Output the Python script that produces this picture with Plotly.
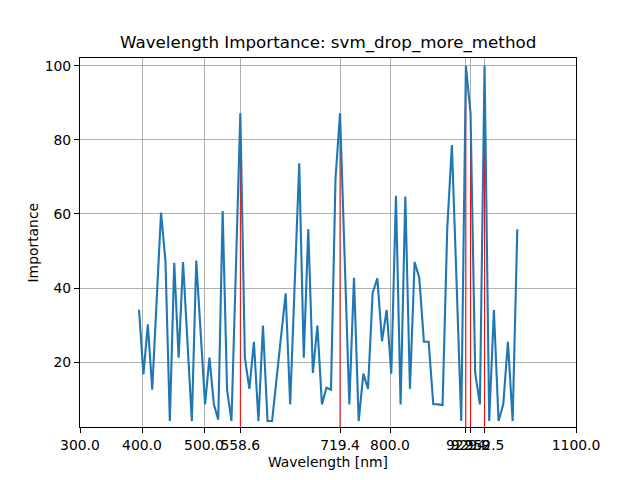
import plotly.graph_objects as go

# Wavelengths [nm] of each sample
wavelengths = [
    395.2, 402.3, 409.4, 416.5, 423.6, 430.7, 437.8, 444.9, 452.0, 459.1,
    466.2, 473.3, 480.4, 487.5, 494.6, 501.7, 508.8, 515.9, 523.0, 530.1,
    537.2, 544.3, 551.4, 558.6, 565.9, 573.2, 580.5, 587.8, 595.1, 602.5,
    609.8, 617.1, 624.4, 631.7, 639.0, 646.3, 653.6, 660.9, 668.2, 675.6,
    682.9, 690.2, 697.5, 704.8, 712.1, 719.4, 726.9, 734.4, 741.9, 749.5,
    757.0, 764.5, 772.0, 779.6, 787.1, 794.6, 802.1, 809.6, 817.1, 824.7,
    832.2, 839.7, 847.2, 854.7, 862.3, 869.8, 877.3, 884.8, 892.3, 899.8,
    907.4, 914.9, 922.4, 929.9, 937.4, 945.0, 952.5, 960.0, 967.6, 975.1,
    982.7, 990.2, 997.8, 1005.3,
]

importance = [
    34.2, 16.7, 30.2, 12.6, 36.5, 60.4, 47.3, 4.1, 46.8, 21.2,
    47.0, 25.5, 4.1, 47.4, 28.0, 8.6, 21.2, 8.6, 4.5, 60.8,
    12.6, 4.1, 45.0, 87.2, 21.2, 12.8, 25.5, 4.1, 29.9, 4.1,
    4.1, 15.5, 27.0, 38.6, 8.6, 41.0, 73.7, 21.2, 55.9, 17.1,
    29.9, 8.6, 13.1, 12.6, 69.5, 87.2, 48.0, 8.6, 42.8, 4.1,
    16.9, 12.8, 38.7, 42.6, 25.7, 34.1, 16.9, 64.9, 8.6, 64.7,
    12.8, 47.0, 42.8, 25.5, 25.5, 8.7, 8.6, 8.4, 55.9, 78.6,
    41.4, 4.1, 100.0, 87.2, 17.1, 8.6, 100.0, 4.1, 34.1, 4.1,
    8.6, 25.5, 4.1, 55.9,
]

# Selected (most important) wavelengths highlighted in red
selected_wl = [558.6, 719.4, 922.4, 929.9, 952.5]
selected_imp = [87.2, 87.2, 100.0, 87.2, 100.0]

base_ticks = [300.0, 400.0, 500.0, 800.0, 1100.0]
x_ticks = sorted(base_ticks + selected_wl)
x_ticklabels = [f"{v:.1f}" for v in x_ticks]
y_ticks = [20, 40, 60, 80, 100]

x_range = [300, 1100]
y_range = [2.5, 102.1]

FONT = "DejaVu Sans"

fig = go.Figure()

vx, vy = [], []
for w, v in zip(selected_wl, selected_imp):
    vx += [w, w, None]
    vy += [0, v, None]
fig.add_trace(go.Scatter(
    x=vx, y=vy, mode="lines",
    line=dict(color="#ff0000", width=1.0),
    showlegend=False, hoverinfo="skip",
))

fig.add_trace(go.Scatter(
    x=wavelengths, y=importance, mode="lines",
    line=dict(color="#1f77b4", width=2.1),
    showlegend=False, hoverinfo="skip",
))

axis_common = dict(
    showline=True, linecolor="black", linewidth=1.1, mirror=True,
    ticks="outside", ticklen=5, tickwidth=1.1, tickcolor="black",
    showgrid=True, gridcolor="#b0b0b0", gridwidth=1.1,
    zeroline=False,
    tickfont=dict(family=FONT, size=13.9, color="black"),
)

fig.update_xaxes(
    range=x_range, tickmode="array", tickvals=x_ticks, ticktext=x_ticklabels,
    tickangle=0, **axis_common,
)
fig.update_yaxes(
    range=y_range, tickmode="array", tickvals=y_ticks,
    ticktext=[str(v) for v in y_ticks], **axis_common,
)

# The page adds an 8px body margin, so the figure is offset by 8px.
fig.update_layout(
    width=632, height=472,
    margin=dict(l=72, r=64, t=49.6, b=52.8, autoexpand=False),
    paper_bgcolor="white", plot_bgcolor="white",
    font=dict(family=FONT, color="black"),
    annotations=[
        dict(text="Wavelength Importance: svm_drop_more_method",
             xref="paper", yref="paper", x=0.5, y=1, yanchor="bottom",
             xanchor="center", yshift=3, showarrow=False,
             font=dict(family=FONT, size=16.7, color="black")),
        dict(text="Wavelength [nm]",
             xref="paper", yref="paper", x=0.5, y=0, yanchor="middle",
             xanchor="center", yshift=-35, showarrow=False,
             font=dict(family=FONT, size=13.9, color="black")),
        dict(text="Importance", textangle=-90,
             xref="paper", yref="paper", x=0, y=0.5, xanchor="center",
             yanchor="middle", xshift=-48, showarrow=False,
             font=dict(family=FONT, size=13.9, color="black")),
    ],
)

fig.write_html("out.html")
